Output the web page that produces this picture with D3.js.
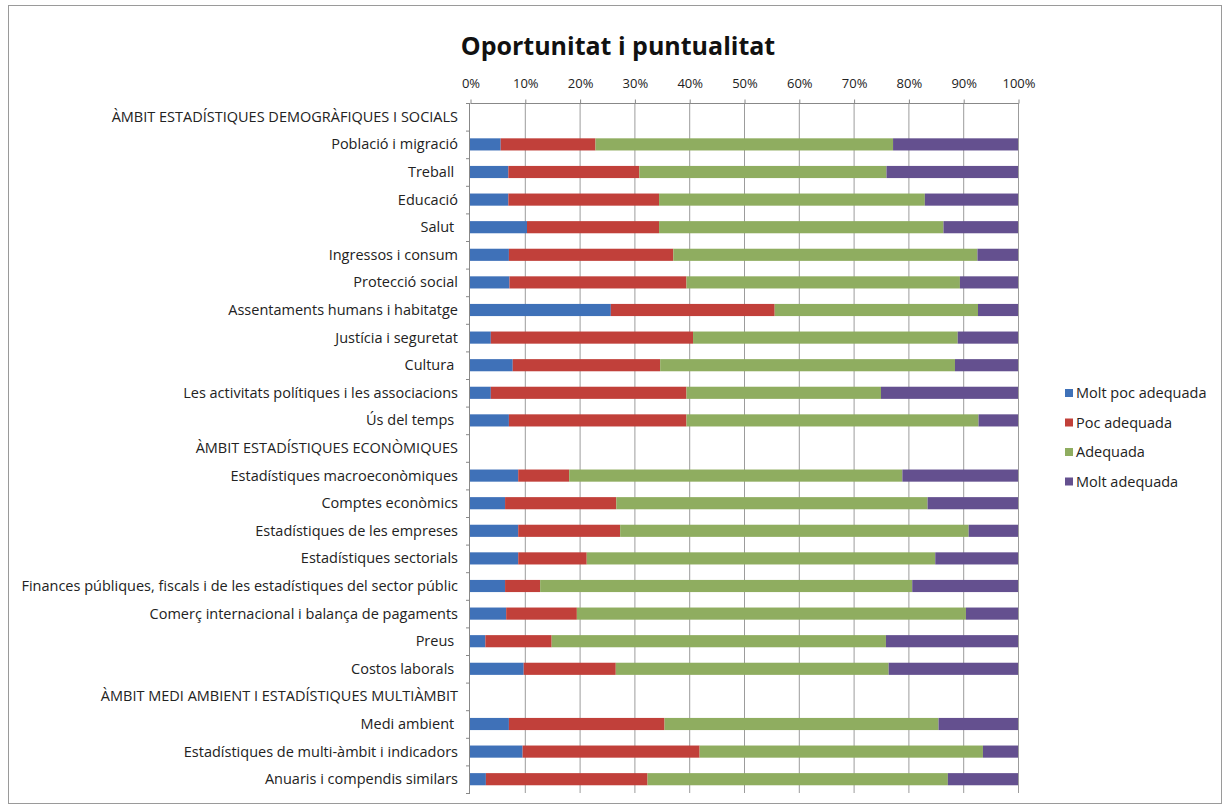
<!DOCTYPE html>
<html>
<head>
<meta charset="utf-8">
<script src="https://cdn.jsdelivr.net/npm/d3@7"></script>
<style>
  html, body { margin: 0; padding: 0; background: #fff; }
  svg { display: block; font-family: "Open Sans", "Noto Sans", sans-serif; }
</style>
</head>
<body>
<svg id="chart" width="1224" height="806"></svg>
<script>
const title = "Oportunitat i puntualitat";
const categories = [
  "ÀMBIT ESTADÍSTIQUES DEMOGRÀFIQUES I SOCIALS",
  "Població i migració",
  "Treball ",
  "Educació",
  "Salut ",
  "Ingressos i consum",
  "Protecció social",
  "Assentaments humans i habitatge",
  "Justícia i seguretat",
  "Cultura ",
  "Les activitats polítiques i les associacions",
  "Ús del temps ",
  "ÀMBIT ESTADÍSTIQUES ECONÒMIQUES",
  "Estadístiques macroeconòmiques",
  "Comptes econòmics",
  "Estadístiques de les empreses",
  "Estadístiques sectorials",
  "Finances públiques, fiscals i de les estadístiques del sector públic",
  "Comerç internacional i balança de pagaments",
  "Preus ",
  "Costos laborals ",
  "ÀMBIT MEDI AMBIENT I ESTADÍSTIQUES MULTIÀMBIT",
  "Medi ambient ",
  "Estadístiques de multi-àmbit i indicadors",
  "Anuaris i compendis similars"
];
const seriesNames = ["Molt poc adequada", "Poc adequada", "Adequada", "Molt adequada"];
const moltPoc   = [null, 5.6, 7.0, 7.0, 10.4, 7.1, 7.2, 25.7, 3.8, 7.8, 3.8, 7.1, null, 8.8, 6.4, 8.8, 8.8, 6.4, 6.6, 2.8, 9.8, null, 7.1, 9.6, 2.9];
const poc       = [null, 17.3, 23.9, 27.5, 24.1, 30.0, 32.3, 29.9, 36.9, 26.9, 35.7, 32.4, null, 9.3, 20.3, 18.6, 12.5, 6.4, 12.9, 12.1, 16.8, null, 28.4, 32.3, 29.5];
const adequada  = [null, 54.3, 45.1, 48.5, 51.9, 55.5, 49.9, 37.1, 48.3, 53.8, 35.5, 53.3, null, 60.8, 56.8, 63.6, 63.6, 67.9, 71.0, 61.0, 49.8, null, 50.0, 51.7, 54.8];
const moltAdeq  = [null, 22.8, 24.0, 17.0, 13.6, 7.4, 10.6, 7.3, 11.0, 11.5, 25.0, 7.2, null, 21.1, 16.5, 9.0, 15.1, 19.3, 9.5, 24.1, 23.6, null, 14.5, 6.4, 12.8];
const tickValues = [0, 10, 20, 30, 40, 50, 60, 70, 80, 90, 100];
const colors = ["#3f71b8", "#c1403a", "#8fad60", "#64508f"];

const svg = d3.select("#chart");
const W = 1224, H = 806;
const margin = { left: 470, right: 206, top: 103, bottom: 13 };

// outer frame
svg.append("rect").attr("x", 8.5).attr("y", 5.5).attr("width", W - 11).attr("height", H - 8)
  .attr("fill", "none").attr("stroke", "#9a9a9a").attr("stroke-width", 1);

const x = d3.scaleLinear().domain([0, 100]).range([margin.left, W - margin.right]);
const y = d3.scaleBand().domain(d3.range(categories.length)).range([margin.top, H - margin.bottom]).paddingInner(0.56).paddingOuter(0.28);
const band = (H - margin.bottom - margin.top) / categories.length;

// gridlines
svg.append("g").selectAll("line").data(tickValues.slice(1)).join("line")
  .attr("x1", d => x(d) + 0.5).attr("x2", d => x(d) + 0.5)
  .attr("y1", margin.top).attr("y2", H - margin.bottom)
  .attr("stroke", "#9c9c9c").attr("stroke-width", 1);

// stacked data
const rows = categories.map((c, i) => ({ i, v: [moltPoc[i], poc[i], adequada[i], moltAdeq[i]] }));
const segs = [];
rows.forEach(r => {
  if (r.v[0] == null) return;
  let acc = 0;
  r.v.forEach((v, k) => { segs.push({ i: r.i, k, x0: acc, x1: acc + v }); acc += v; });
});
svg.append("g").selectAll("rect").data(segs).join("rect")
  .attr("x", d => x(d.x0)).attr("width", d => x(d.x1) - x(d.x0))
  .attr("y", d => y(d.i)).attr("height", y.bandwidth())
  .attr("fill", d => colors[d.k]);

// top axis
const xAxis = d3.axisTop(x).tickValues(tickValues).tickFormat(d => d + "%").tickSize(4).tickPadding(12);
const gx = svg.append("g").attr("transform", `translate(0.5,${margin.top + 0.5})`).call(xAxis);
gx.select(".domain").attr("stroke", "#888").attr("d", `M${x(0)},0H${x(100)}`);
gx.selectAll(".tick line").attr("stroke", "#888");
gx.selectAll("text").attr("font-size", 13).attr("fill", "#222").attr("font-family", "Open Sans, sans-serif");

// left axis line and ticks at band boundaries
svg.append("line").attr("x1", x(0) - 0.5).attr("x2", x(0) - 0.5)
  .attr("y1", margin.top).attr("y2", H - margin.bottom).attr("stroke", "#888");
svg.append("g").selectAll("line").data(d3.range(categories.length + 1)).join("line")
  .attr("x1", x(0) - 4).attr("x2", x(0))
  .attr("y1", d => margin.top + d * band + 0.5).attr("y2", d => margin.top + d * band + 0.5)
  .attr("stroke", "#888");

// category labels
svg.append("g").selectAll("text").data(categories).join("text")
  .attr("x", x(0) - 12).attr("y", (d, i) => y(i) + y.bandwidth() / 2)
  .attr("dy", "0.35em").attr("text-anchor", "end")
  .attr("font-size", 14.5).attr("fill", "#222")
  .style("white-space", "pre")
  .text(d => d);

// title
svg.append("text").attr("x", 618).attr("y", 55).attr("text-anchor", "middle")
  .attr("font-size", 25).attr("font-weight", "bold").attr("fill", "#111")
  .text(title);

// legend
const lg = svg.append("g").attr("transform", "translate(1065,393)");
const li = lg.selectAll("g").data(seriesNames).join("g")
  .attr("transform", (d, i) => `translate(0,${i * 29.5})`);
li.append("rect").attr("x", 0).attr("y", -4).attr("width", 8).attr("height", 8).attr("fill", (d, i) => colors[i]);
li.append("text").attr("x", 11).attr("y", 0).attr("dy", "0.35em")
  .attr("font-size", 14.5).attr("fill", "#222").text(d => d);
</script>
</body>
</html>
